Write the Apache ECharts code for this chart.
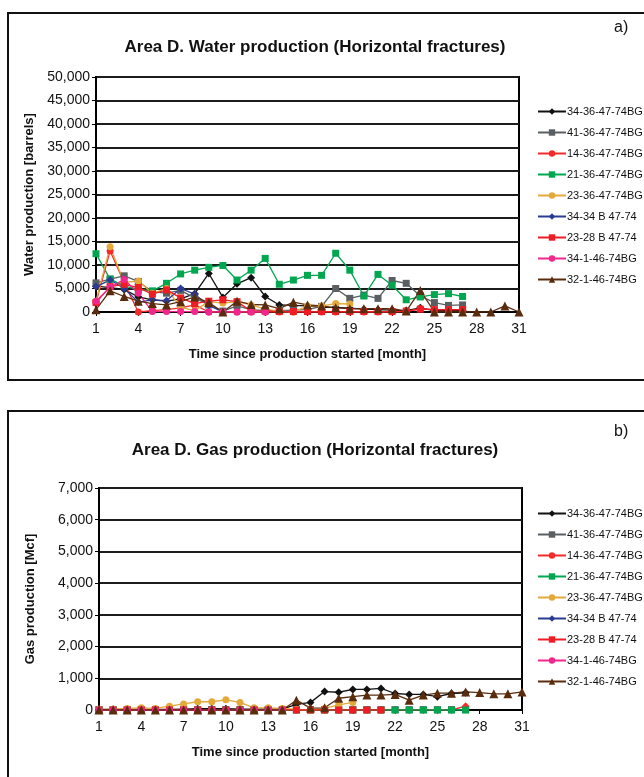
<!DOCTYPE html>
<html>
<head>
<meta charset="utf-8">
<script src="https://cdn.jsdelivr.net/npm/echarts@6/dist/echarts.min.js"></script>
<style>
  html, body { margin: 0; padding: 0; background: #fff; }
  #chart { width: 644px; height: 777px; }
</style>
</head>
<body>
<div id="chart"></div>
<script>
// Months since production started
const months = ['1','2','3','4','5','6','7','8','9','10','11','12','13','14','15','16','17','18','19','20','21','22','23','24','25','26','27','28','29','30','31'];

// Well names (legend order)
const wellNames = ['34-36-47-74BG','41-36-47-74BG','14-36-47-74BG','21-36-47-74BG','23-36-47-74BG','34-34 B 47-74','23-28 B 47-74','34-1-46-74BG','32-1-46-74BG'];

// Water production [barrels], one value per month
const water_34_36 = [5500, 5200, 4800, 3200, 2600, 2300, 2800, 3900, 8200, 3100, 6000, 7300, 3300, 1500, 1400, 1300, 1000, 1000, 800, 600, 500, 400, 300, 900, 300, 300, 300];
const water_41_36 = [6200, 7000, 7700, 6500, 4300, 4000, 4600, 3000, 1500, 200, 1300, 500, 300, 300, 400, 500, 1200, 5000, 2900, 3600, 2900, 6700, 6100, 3400, 2000, 1400, 1500];
const water_14_36 = [2000, 13000, 6200, 0, 300, 500, 900, 1500, 0, 0, 0, 0, 0, 0, 0, 0, 0, 0, 0, 0, 0, 0, 100, 700, 500, 500, 500];
const water_21_36 = [12400, 7000, 5500, 4800, 4500, 6100, 8100, 8900, 9500, 9900, 6800, 8900, 11400, 5900, 6800, 7800, 7800, 12500, 8900, 3400, 8000, 5700, 2600, 3200, 3700, 3900, 3300];
const water_23_36 = [2300, 13900, 6300, 6600, 4000, 5000, 1000, 300, 2200, 1900, 2200, 1500, 600, 200, 0, 1300, 1300, 1800, 1700];
const water_34_34B = [5400, 6800, 5000, 2100, 2600, 2400, 5000, 3800, 1400, 0];
const water_23_28B = [2000, 5400, 5900, 5200, 3800, 4700, 3000, 1800, 2300, 2600, 2200, 200, 200, 100, 100, 100, 100, 100, 100, 100, 100, 100, 200, 600, 500, 500, 500];
const water_34_1 = [2300, 5300, 6900, 4000, 100, 100, 100, 100, 0, 0, 0, 0, 0];
const water_32_1 = [500, 4500, 3300, 2300, 1800, 1500, 2200, 3200, 2000, 0, 2300, 1600, 1500, 700, 2100, 1500, 1300, 900, 700, 700, 700, 700, 200, 4600, 0, 0, 0, 0, 0, 1300, 0];

// Gas production [Mcf], one value per month
const gas_34_36 = [20, 20, 20, 20, 20, 20, 30, 40, 40, 40, 30, 30, 30, 30, 180, 240, 580, 560, 650, 650, 680, 520, 490, 490, 420, 520, 540];
const gas_41_36 = [10, 10, 10, 10, 10, 10, 10, 10, 10, 10, 10, 10, 10, 10, 10, 10, 10, 10, 10, 10, 10, 10, 10, 10, 10, 10, 10];
const gas_14_36 = [0, 0, 0, 0, 0, 0, 0, 0, 0, 0, 0, 0, 0, 0, 0, 0, 0, 0, 0, 0, 0, 0, 0, 0, 0, 0, 120];
const gas_21_36 = [0, 0, 0, 0, 0, 0, 0, 0, 0, 0, 0, 0, 0, 0, 0, 0, 0, 0, 0, 0, 0, 0, 0, 0, 0, 0, 0];
const gas_23_36 = [20, 20, 50, 70, 50, 120, 190, 260, 260, 320, 240, 70, 70, 50, 20, 0, 50, 160, 240];
const gas_34_34B = [0, 0, 0, 0, 0, 0, 0, 0, 0, 0, 0, 0, 0, 0];
const gas_23_28B = [0, 0, 0, 0, 0, 0, 0, 0, 0, 0, 0, 0, 0, 0, 0, 0, 0, 0, 0, 0, 0];
const gas_34_1 = [0, 0, 0, 0, 0, 0, 0, 0, 0, 0, 0, 0, 0, 0];
const gas_32_1 = [0, 0, 0, 0, 0, 0, 0, 0, 0, 0, 0, 0, 0, 0, 310, 60, 70, 370, 420, 470, 470, 490, 310, 470, 530, 530, 570, 550, 510, 510, 570];

const waterData = [water_34_36, water_41_36, water_14_36, water_21_36, water_23_36, water_34_34B, water_23_28B, water_34_1, water_32_1];
const gasData = [gas_34_36, gas_41_36, gas_14_36, gas_21_36, gas_23_36, gas_34_34B, gas_23_28B, gas_34_1, gas_32_1];

// Per-well line colour and marker, water chart and gas chart
const colors = ['#111111', '#595f63', '#f52a2a', '#00a650', '#e3a93a', '#2b3a93', '#ee1d25', '#f0278c', '#5a2c0e'];
const waterSymbols = ['diamond', 'rect', 'circle', 'rect', 'circle', 'diamond', 'rect', 'circle', 'triangle'];
const gasSymbols = ['diamond', 'rect', 'diamond', 'rect', 'circle', 'diamond', 'rect', 'circle', 'triangle'];
const symbolSizes = { diamond: 8, rect: 7, circle: 7, triangle: 9 };

const FONT = 'Liberation Sans, Arial, sans-serif';
const fmt = v => v.toLocaleString('en-US');

function makeSeries(dataSets, symbols, gridIndex) {
  return dataSets.map((d, i) => ({
    name: wellNames[i],
    type: 'line',
    xAxisIndex: gridIndex,
    yAxisIndex: gridIndex,
    data: d,
    symbol: symbols[i],
    symbolSize: symbolSizes[symbols[i]],
    showAllSymbol: true,
    color: colors[i],
    lineStyle: { width: 1.3, color: colors[i] },
    itemStyle: { color: colors[i] },
    animation: false
  }));
}

function xAxis(gridIndex) {
  return {
    type: 'category', gridIndex, data: months, boundaryGap: false,
    name: 'Time since production started [month]', nameLocation: 'middle', nameGap: 36,
    nameTextStyle: { fontFamily: FONT, fontWeight: 'bold', fontSize: 13, color: '#111' },
    axisLine: { lineStyle: { color: '#000', width: 2 } },
    axisTick: { interval: 2, length: 4, lineStyle: { color: '#000' } },
    axisLabel: { interval: 2, fontFamily: FONT, fontSize: 14, color: '#111', margin: 10 },
    splitLine: { show: false }
  };
}

function yAxis(gridIndex, max, interval, name, gap) {
  return {
    type: 'value', gridIndex, min: 0, max, interval,
    name, nameLocation: 'middle', nameGap: gap,
    nameTextStyle: { fontFamily: FONT, fontWeight: 'bold', fontSize: 13, color: '#111' },
    axisLine: { show: true, lineStyle: { color: '#000', width: 2 } },
    axisTick: { show: true, length: 4, lineStyle: { color: '#000' } },
    axisLabel: { fontFamily: FONT, fontSize: 14, color: '#111', margin: 6, formatter: fmt },
    splitLine: { show: true, lineStyle: { color: '#1c1c1c', width: 2 } }
  };
}

function legend(top) {
  return {
    orient: 'vertical', left: 537, top, padding: 0,
    itemWidth: 28, itemHeight: 8, itemGap: 10,
    textStyle: { fontFamily: FONT, fontSize: 11, color: '#111', padding: [0, 0, 0, -4] },
    data: wellNames
  };
}

const chart = echarts.init(document.getElementById('chart'), null, { renderer: 'canvas' });
chart.setOption({
  backgroundColor: '#fff',
  animation: false,
  title: [
    { text: 'Area D. Water production (Horizontal fractures)', left: 310, top: 34, textAlign: 'center',
      textStyle: { fontFamily: FONT, fontWeight: 'bold', fontSize: 17, color: '#111' } },
    { text: 'Area D. Gas production (Horizontal fractures)', left: 310, top: 437, textAlign: 'center',
      textStyle: { fontFamily: FONT, fontWeight: 'bold', fontSize: 17, color: '#111' } }
  ],
  grid: [
    { left: 96, top: 77, width: 423, height: 235, show: true, borderColor: '#000', borderWidth: 2, backgroundColor: 'transparent' },
    { left: 99, top: 488, width: 423, height: 222, show: true, borderColor: '#000', borderWidth: 2, backgroundColor: 'transparent' }
  ],
  legend: [ legend(106), legend(508) ],
  xAxis: [ xAxis(0), xAxis(1) ],
  yAxis: [
    yAxis(0, 50000, 5000, 'Water production [barrels]', 54),
    yAxis(1, 7000, 1000, 'Gas production [Mcf]', 62)
  ],
  graphic: [
    { type: 'rect', shape: { x: 8, y: 13, width: 700, height: 367 }, style: { fill: 'none', stroke: '#111', lineWidth: 2 } },
    { type: 'rect', shape: { x: 8, y: 411, width: 700, height: 400 }, style: { fill: 'none', stroke: '#111', lineWidth: 2 } },
    { type: 'text', left: 614, top: 20, style: { text: 'a)', font: '16px ' + FONT, fill: '#111' } },
    { type: 'text', left: 614, top: 424, style: { text: 'b)', font: '16px ' + FONT, fill: '#111' } }
  ],
  series: makeSeries(waterData, waterSymbols, 0).concat(makeSeries(gasData, gasSymbols, 1))
});
</script>
</body>
</html>
